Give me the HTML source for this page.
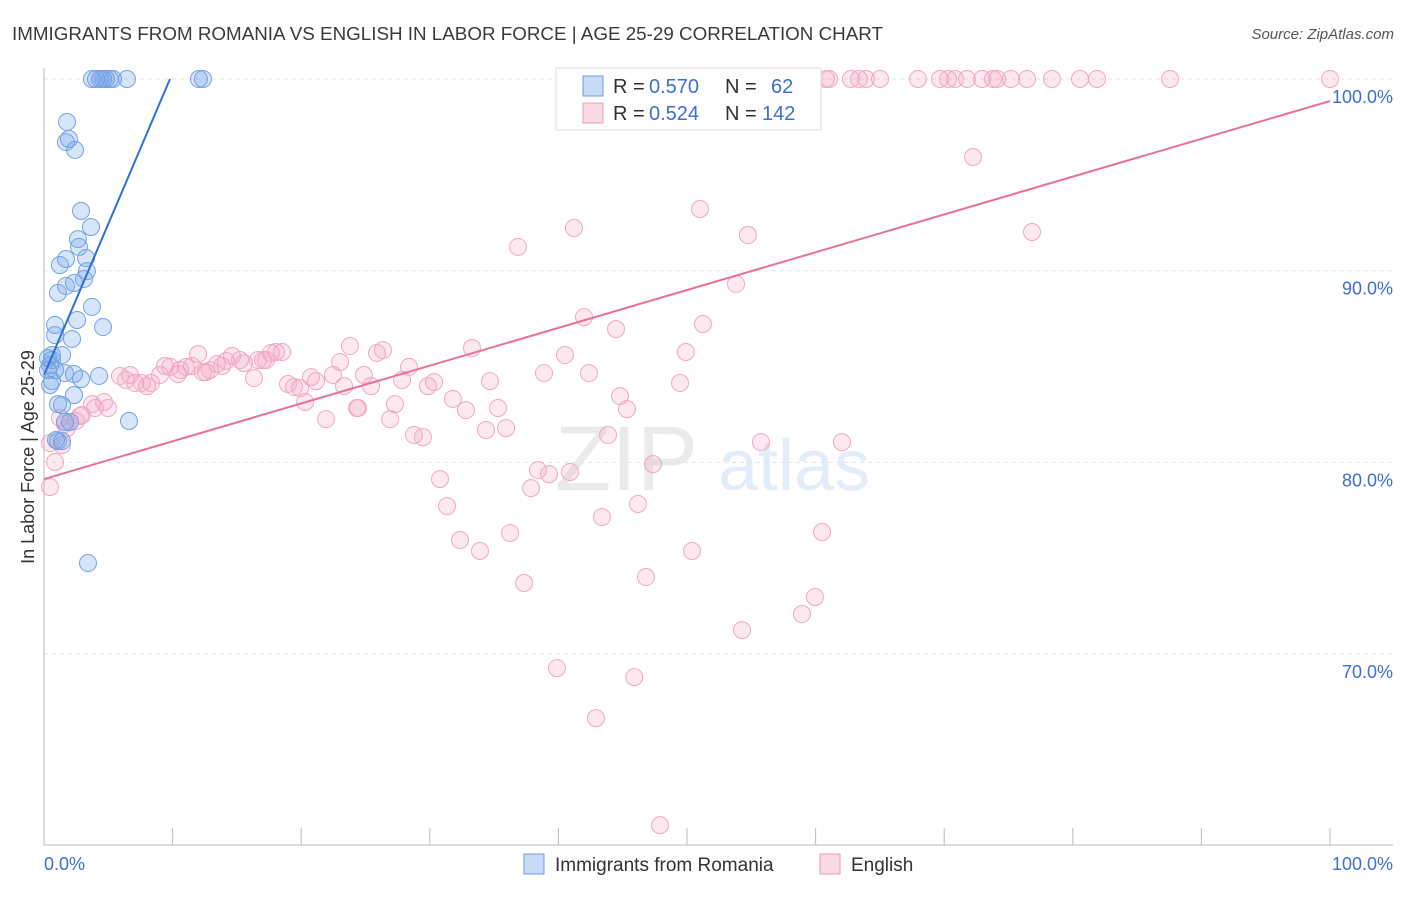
<!DOCTYPE html>
<html><head><meta charset="utf-8"><style>
body{margin:0;background:#fff;font-family:"Liberation Sans",sans-serif;}
svg text{font-family:"Liberation Sans",sans-serif;}
</style></head><body>
<svg id="chart" width="1406" height="892" viewBox="0 0 1406 892" xmlns="http://www.w3.org/2000/svg">
<text x="12" y="40" font-size="18" fill="#3a3a3a" textLength="871" lengthAdjust="spacingAndGlyphs">IMMIGRANTS FROM ROMANIA VS ENGLISH IN LABOR FORCE | AGE 25-29 CORRELATION CHART</text>
<text x="1394" y="39" font-size="15" fill="#555" text-anchor="end" font-style="italic">Source: ZipAtlas.com</text>
<g opacity="0.2">
<text x="555" y="490" font-size="92" font-family="Liberation Serif" fill="#999">ZIP</text>
<text x="718" y="490" font-size="72" fill="#7aa7e3">atlas</text>
</g>
<g id="grid"></g>
<g id="axes"></g>
<g id="marks"></g>
<g>
<rect x="556" y="68" width="265" height="62" fill="#fff" stroke="#ddd"/>
<rect x="583" y="76" width="20" height="20" fill="rgba(100,150,230,0.35)" stroke="#6a9be0"/>
<text x="613" y="93" font-size="20" fill="#333">R =</text>
<text x="649" y="93" font-size="20" fill="#3d6fd1">0.570</text>
<text x="725" y="93" font-size="20" fill="#333">N =</text>
<text x="771" y="93" font-size="20" fill="#3d6fd1">62</text>
<rect x="583" y="103" width="20" height="20" fill="rgba(240,150,180,0.35)" stroke="#ee9bb8"/>
<text x="613" y="120" font-size="20" fill="#333">R =</text>
<text x="649" y="120" font-size="20" fill="#3d6fd1">0.524</text>
<text x="725" y="120" font-size="20" fill="#333">N =</text>
<text x="762" y="120" font-size="20" fill="#3d6fd1">142</text>
</g>
<g>
<rect x="524" y="854" width="20" height="20" fill="rgba(100,150,230,0.35)" stroke="#6a9be0"/>
<text x="555" y="871" font-size="19" fill="#333">Immigrants from Romania</text>
<rect x="820" y="854" width="20" height="20" fill="rgba(240,150,180,0.35)" stroke="#ee9bb8"/>
<text x="851" y="871" font-size="19" fill="#333">English</text>
</g>
<text transform="translate(34,457) rotate(-90)" font-size="18" fill="#333" text-anchor="middle">In Labor Force | Age 25-29</text>
<text x="44" y="870" font-size="18" fill="#3d6fd1">0.0%</text>
<text x="1393" y="870" font-size="18" fill="#3d6fd1" text-anchor="end">100.0%</text>
</svg>
<script>
const yTicks=[100,90,80,70];
const yTickLabels=["100.0%","90.0%","80.0%","70.0%"];
const xTicks=[0,10,20,30,40,50,60,70,80,90,100];
const romaniaX=[3.73,4.04,4.36,4.59,4.82,5.13,5.37,6.45,12.05,12.36,1.79,1.94,1.71,2.41,2.88,3.65,2.64,2.72,1.24,1.71,3.27,3.34,3.11,2.33,1.71,1.09,3.73,2.57,4.59,0.86,0.86,2.18,1.40,0.62,0.31,0.47,0.86,1.63,2.33,4.28,2.88,0.62,0.47,2.33,1.09,1.40,1.63,2.02,1.09,1.40,6.61,3.42,0.93,0.31,0.62];
const romaniaY=[100,100,100,100,100,100,100,100,100,100,97.76,96.87,96.71,96.30,93.12,92.28,91.65,91.24,90.30,90.61,90.66,89.98,89.57,89.36,89.20,88.84,88.11,87.43,87.06,87.17,86.64,86.44,85.60,85.60,85.44,85.08,84.82,84.66,84.61,84.51,84.35,84.24,84.04,83.51,83.04,82.99,82.11,82.11,81.11,81.11,82.16,74.75,81.17,84.82,85.34];
const englishX=[48.52,52.26,55.68,57.47,59.72,60.81,61.04,62.75,63.37,63.92,65.01,67.96,69.67,70.30,70.84,71.77,72.94,73.79,74.11,75.19,76.44,78.38,80.56,81.88,87.56,100,
72.24,76.83,51.01,54.74,41.21,36.86,53.81,41.99,51.24,44.48,33.28,49.92,40.51,38.88,42.38,30.33,34.68,49.46,44.79,31.80,35.30,32.81,45.33,27.29,24.42,26.91,35.93,34.37,43.86,28.77,29.47,55.75,62.05,47.36,38.41,40.90,39.27,30.79,37.87,46.19,31.34,43.39,36.24,32.35,33.90,50.39,60.50,37.33,46.81,59.95,58.94,54.28,39.89,45.90,42.92,47.90,
0.47,0.86,1.40,1.79,2.49,2.95,3.97,4.67,4.98,3.73,5.91,6.38,6.69,7.08,7.62,8.01,8.32,9.02,9.41,9.80,10.42,10.58,11.04,11.51,11.98,12.36,12.60,12.91,13.45,13.84,14.15,14.62,15.24,15.55,16.33,16.64,17.03,17.26,17.65,18.04,18.51,18.97,19.44,19.91,20.30,20.76,21.15,21.93,22.47,23.02,23.33,23.79,24.34,24.88,25.43,25.89,26.36,27.84,28.38,29.86,1.24,1.63,0.47,2.80];
const englishY=[100,100,100,100,100,100,100,100,100,100,100,100,100,100,100,100,100,100,100,100,100,100,100,100,100,100,
95.93,92.02,93.22,91.86,92.23,91.24,89.31,87.58,87.22,86.96,85.97,85.76,85.60,84.66,84.66,84.19,84.24,84.14,83.46,83.31,82.84,82.73,82.78,83.04,82.84,82.26,81.79,81.69,81.43,81.43,81.32,81.06,81.06,79.91,79.60,79.50,79.39,79.13,78.66,77.83,77.72,77.15,76.32,75.95,75.38,75.38,76.37,73.71,74.02,72.98,72.09,71.25,69.27,68.80,66.66,61.08,
78.71,80.02,80.91,81.79,82.16,82.47,82.84,83.15,82.84,83.04,84.51,84.30,84.56,84.14,84.14,83.98,84.14,84.56,85.03,84.98,84.61,84.82,84.98,85.03,85.65,84.71,84.71,84.82,85.13,85.03,85.29,85.55,85.34,85.18,84.40,85.34,85.34,85.34,85.71,85.76,85.76,84.09,83.93,83.88,83.15,84.45,84.24,82.26,84.56,85.24,83.98,86.07,82.84,84.56,83.98,85.71,85.86,84.30,84.98,83.98,82.32,82.00,81.01,82.42];
const romaniaTrend=[84.56,1.576]; // intercept, slope
const englishTrend=[79.13,0.1972];

const NS="http://www.w3.org/2000/svg";
const X0=44,X1=1330,YTOP=79,PXPER10=191.7;
function sx(v){return X0+(X1-X0)*v/100;}
function sy(v){return YTOP+(100-v)*PXPER10/10;}
function mk(tag,attrs,parent){const e=document.createElementNS(NS,tag);for(const k in attrs)e.setAttribute(k,attrs[k]);parent.appendChild(e);return e;}
const grid=document.getElementById('grid'),axes=document.getElementById('axes'),marks=document.getElementById('marks');
yTicks.forEach((t,i)=>{
  const l=mk('line',{x1:44,x2:1393,y1:sy(t),y2:sy(t),stroke:'#e2e2e2','stroke-dasharray':'4,4'},grid);
  
  
  const tx=mk('text',{x:1393,y:sy(t)+24,'font-size':18,fill:'#3d6fd1','text-anchor':'end'},grid);
  tx.textContent=yTickLabels[i];
  
  
});
const ya=mk('line',{x1:44,x2:44,y1:68,y2:845,stroke:'#bbb'},axes);


const xa=mk('line',{x1:44,x2:1393,y1:845,y2:845,stroke:'#bbb'},axes);


xTicks.forEach(t=>{
  const l=mk('line',{x1:sx(t),x2:sx(t),y1:828,y2:845,stroke:'#bbb'},axes);
  
  
});
englishX.forEach((x,i)=>{
  const c=mk('circle',{cx:sx(x),cy:sy(englishY[i]),r:8.5,fill:'rgba(245,165,195,0.25)',stroke:'#f0a8c2','stroke-width':1},marks);
  
  
});
romaniaX.forEach((x,i)=>{
  const c=mk('circle',{cx:sx(x),cy:sy(romaniaY[i]),r:8.5,fill:'rgba(110,160,235,0.28)',stroke:'#74a2e3','stroke-width':1},marks);
  
  
});
const eTl=mk('line',{x1:sx(0),y1:sy(englishTrend[0]),x2:sx(100),y2:sy(englishTrend[0]+englishTrend[1]*100),stroke:'#e8709a','stroke-width':2},marks);


const rEnd=(100-romaniaTrend[0])/romaniaTrend[1];
const rTl=mk('line',{x1:sx(0),y1:sy(romaniaTrend[0]),x2:sx(rEnd),y2:sy(100),stroke:'#2e6fd8','stroke-width':2},marks);


</script>
</body></html>
